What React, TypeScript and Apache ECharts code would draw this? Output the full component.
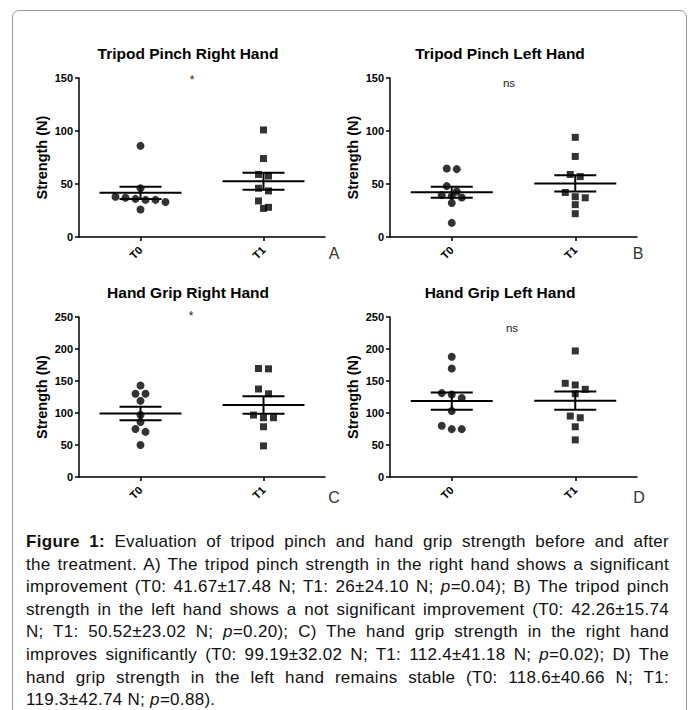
import React, { useEffect, useRef } from "react";
import * as echarts from "echarts";

const categories = ["T0", "T1"];
const N = 9;

// Panel A: Tripod Pinch Right Hand
const A_T0 = [86, 46, 38, 37, 36, 35, 35, 33, 26];
const A_T1 = [101, 74, 59, 57.5, 46, 43.5, 34, 28, 27];
const A_mean = [41.67, 52.5];
const A_sd = [17.48, 24.1];
// Panel B: Tripod Pinch Left Hand
const B_T0 = [64.7, 64, 48, 43, 39.5, 38.8, 37.3, 32, 13.3];
const B_T1 = [94, 76, 59, 57, 42, 38, 37, 30.5, 22];
const B_mean = [42.26, 50.52];
const B_sd = [15.74, 23.02];
// Panel C: Hand Grip Right Hand
const C_T0 = [143, 130, 130, 119, 97, 86, 75, 70.5, 50];
const C_T1 = [169, 169.5, 137.5, 130, 96.8, 92.6, 92.6, 78.5, 48.6];
const C_mean = [99.19, 112.4];
const C_sd = [32.02, 41.18];
// Panel D: Hand Grip Left Hand
const D_T0 = [188, 169.5, 131, 129, 123.4, 103, 80, 74.8, 74.8];
const D_T1 = [197, 146.4, 143.8, 137, 130.2, 95.2, 92.6, 78.5, 58];
const D_mean = [118.6, 119.3];
const D_sd = [40.66, 42.74];

const titles = [
  "Tripod Pinch Right Hand",
  "Tripod Pinch Left Hand",
  "Hand Grip Right Hand",
  "Hand Grip Left Hand",
];
const sigMarks = ["*", "ns", "*", "ns"];
const panelLetters = ["A", "B", "C", "D"];
const yMax = [150, 150, 250, 250];
const yInterval = 50;
const yName = "Strength (N)";

const FONT = "'Liberation Sans', Arial, Helvetica, sans-serif";

function swarm(values: number[], pxPerUnit: number, spacing = 10, thresh = 7) {
  const idx = values.map((_, i) => i).sort((a, b) => values[b] - values[a]);
  const off = new Array(values.length).fill(0);
  let g: number[] = [];
  const flush = () => {
    g.forEach((k, j) => (off[k] = (j - (g.length - 1) / 2) * spacing));
    g = [];
  };
  for (const k of idx) {
    if (g.length && (values[g[0]] - values[k]) * pxPerUnit > thresh) flush();
    g.push(k);
  }
  flush();
  return off;
}

export default function App() {
  const ref = useRef<HTMLDivElement>(null);
  useEffect(() => {
    if (!ref.current) return;
    const chart = echarts.init(ref.current, null, { renderer: "svg" });

    const grids = [
      { left: 79, top: 78, width: 246, height: 159 },
      { left: 390, top: 78, width: 247, height: 159 },
      { left: 79, top: 317, width: 246, height: 160 },
      { left: 390, top: 317, width: 247, height: 160 },
    ];
    const panels = [
      { t0: A_T0, t1: A_T1, mean: A_mean, sd: A_sd },
      { t0: B_T0, t1: B_T1, mean: B_mean, sd: B_sd },
      { t0: C_T0, t1: C_T1, mean: C_mean, sd: C_sd },
      { t0: D_T0, t1: D_T1, mean: D_mean, sd: D_sd },
    ];

    const xAxis = grids.map((_, i) => ({
      type: "category",
      gridIndex: i,
      data: categories,
      boundaryGap: true,
      axisLine: { show: true, lineStyle: { color: "#000", width: 1.5 } },
      axisTick: { show: true, alignWithLabel: true, length: 4, lineStyle: { color: "#000", width: 1.5 } },
      axisLabel: {
        rotate: 45,
        margin: 11,
        color: "#000",
        fontWeight: "bold",
        fontSize: 11,
        fontFamily: FONT,
      },
      splitLine: { show: false },
    }));

    const yAxis = grids.map((_, i) => ({
      type: "value",
      gridIndex: i,
      min: 0,
      max: yMax[i],
      interval: yInterval,
      name: yName,
      nameLocation: "middle",
      nameGap: 30,
      nameTextStyle: { color: "#000", fontWeight: "bold", fontSize: 14.5, fontFamily: FONT },
      axisLine: { show: true, lineStyle: { color: "#000", width: 1.5 } },
      axisTick: { show: true, length: 4, lineStyle: { color: "#000", width: 1.5 } },
      axisLabel: { color: "#000", fontWeight: "bold", fontSize: 11, fontFamily: FONT, margin: 6 },
      splitLine: { show: false },
    }));

    const series: any[] = [];
    panels.forEach((p, i) => {
      const pxPerUnit = grids[i].height / yMax[i];
      [p.t0, p.t1].forEach((vals, c) => {
        const offs = swarm(vals, pxPerUnit);
        series.push({
          type: "scatter",
          xAxisIndex: i,
          yAxisIndex: i,
          symbol: c === 0 ? "circle" : "rect",
          symbolSize: c === 0 ? 8 : 7,
          itemStyle: { color: "#000" },
          data: vals.map((v, k) => ({ value: [categories[c], v], symbolOffset: [offs[k], 0] })),
          z: 3,
        });
      });
      series.push({
        type: "custom",
        xAxisIndex: i,
        yAxisIndex: i,
        encode: { x: 0, y: 1 },
        data: p.mean.map((m, c) => [c, m, p.sd[c] / Math.sqrt(N)]),
        renderItem: (params: any, api: any) => {
          const x = api.value(0);
          const m = api.value(1);
          const s = api.value(2);
          const c = api.coord([x, m]);
          const hi = api.coord([x, m + s]);
          const lo = api.coord([x, m - s]);
          const hw = 41;
          const cw = 21;
          const st = { stroke: "#000", lineWidth: 2 };
          return {
            type: "group",
            children: [
              { type: "line", shape: { x1: c[0] - hw, y1: c[1], x2: c[0] + hw, y2: c[1] }, style: st },
              { type: "line", shape: { x1: c[0], y1: hi[1], x2: c[0], y2: lo[1] }, style: st },
              { type: "line", shape: { x1: c[0] - cw, y1: hi[1], x2: c[0] + cw, y2: hi[1] }, style: st },
              { type: "line", shape: { x1: c[0] - cw, y1: lo[1], x2: c[0] + cw, y2: lo[1] }, style: st },
            ],
          };
        },
        z: 4,
      });
    });

    const titlePos = [
      [188, 53],
      [500, 53],
      [188, 292],
      [500, 292],
    ];
    const sigPos = [
      [192, 80],
      [509, 83],
      [191, 316],
      [512, 328],
    ];
    const letterPos = [
      [334, 253],
      [638, 253],
      [334, 497],
      [639, 497],
    ];
    const graphic: any[] = [];
    titles.forEach((t, i) => {
      graphic.push({
        type: "text",
        x: titlePos[i][0],
        y: titlePos[i][1],
        style: {
          text: t,
          fill: "#000",
          font: `bold 15.5px ${FONT}`,
          textAlign: "center",
          textVerticalAlign: "middle",
        },
      });
      graphic.push({
        type: "text",
        x: sigPos[i][0],
        y: sigPos[i][1],
        style: {
          text: sigMarks[i],
          fill: "#222",
          font: sigMarks[i] === "*" ? `12px ${FONT}` : `11.5px ${FONT}`,
          textAlign: "center",
          textVerticalAlign: "middle",
        },
      });
      graphic.push({
        type: "text",
        x: letterPos[i][0],
        y: letterPos[i][1],
        style: {
          text: panelLetters[i],
          fill: "#333",
          font: `16px ${FONT}`,
          textAlign: "center",
          textVerticalAlign: "middle",
        },
      });
    });

    chart.setOption({
      animation: false,
      backgroundColor: "transparent",
      grid: grids,
      xAxis,
      yAxis,
      series,
      graphic,
    });
    return () => chart.dispose();
  }, []);

  const captionLines: React.ReactNode[] = [
    <>
      <b>Figure 1:</b> Evaluation of tripod pinch and hand grip strength before and after
    </>,
    <>the treatment. A) The tripod pinch strength in the right hand shows a significant</>,
    <>
      improvement (T0: 41.67±17.48 N; T1: 26±24.10 N; <i>p</i>=0.04); B) The tripod pinch
    </>,
    <>strength in the left hand shows a not significant improvement (T0: 42.26±15.74</>,
    <>
      N; T1: 50.52±23.02 N; <i>p</i>=0.20); C) The hand grip strength in the right hand
    </>,
    <>
      improves significantly (T0: 99.19±32.02 N; T1: 112.4±41.18 N; <i>p</i>=0.02); D) The
    </>,
    <>hand grip strength in the left hand remains stable (T0: 118.6±40.66 N; T1:</>,
    <>
      119.3±42.74 N; <i>p</i>=0.88).
    </>,
  ];

  return (
    <div
      style={{
        position: "fixed",
        left: 0,
        top: 0,
        width: 694,
        height: 710,
        overflow: "hidden",
        background: "#fff",
      }}
    >
      <div
        style={{
          position: "absolute",
          left: 12,
          top: 10,
          width: 675,
          height: 760,
          border: "1px solid #9a9a9a",
          borderRadius: 7,
          boxSizing: "border-box",
        }}
      />
      <div ref={ref} style={{ position: "absolute", left: 0, top: 0, width: 694, height: 520 }} />
      <div
        style={{
          position: "absolute",
          left: 26,
          top: 531,
          width: 643,
          fontFamily: FONT,
          fontSize: 17,
          letterSpacing: "0.3px",
          lineHeight: "22.6px",
          color: "#111",
        }}
      >
        {captionLines.map((l, i) => (
          <div
            key={i}
            style={{
              whiteSpace: "nowrap",
              textAlign: i === captionLines.length - 1 ? "left" : "justify",
              textAlignLast: i === captionLines.length - 1 ? "left" : "justify",
            }}
          >
            {l}
          </div>
        ))}
      </div>
    </div>
  );
}
